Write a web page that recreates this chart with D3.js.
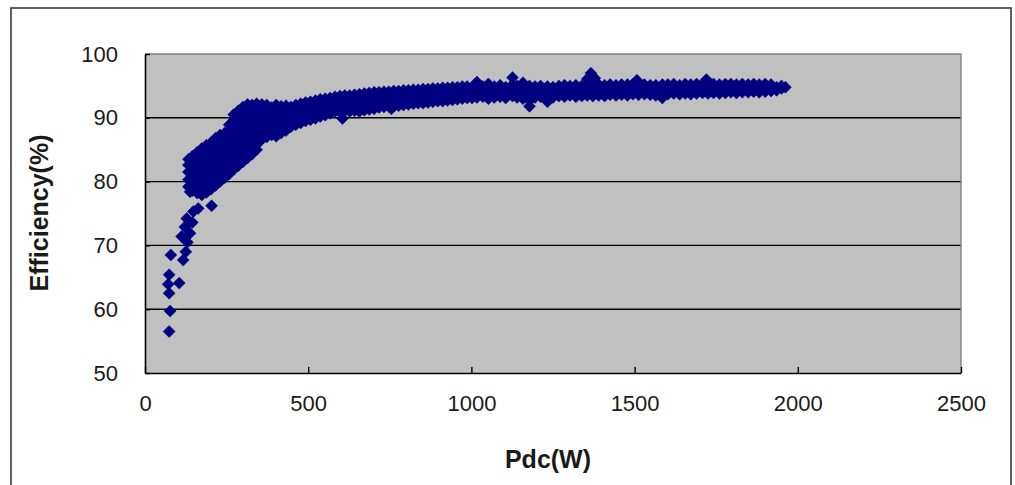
<!DOCTYPE html>
<html><head><meta charset="utf-8">
<script src="https://cdn.jsdelivr.net/npm/d3@7"></script>
<style>body{margin:0;background:#fff}svg{display:block}</style>
</head><body>
<script>
// ---- data ----
const xTicks = [0, 500, 1000, 1500, 2000, 2500];
const yTicks = [50, 60, 70, 80, 90, 100];
const xTitle = "Pdc(W)";
const yTitle = "Efficiency(%)";

// isolated low-load measurements [Pdc W, efficiency %]
const lowLoadPoints = [
  [74,56.5],[77,59.7],[74,62.5],[71,63.9],[74,65.4],[105,64.1],[79,68.5],[117,67.7],
  [125,69.0],[112,71.4],[130,70.5],[138,71.9],[122,72.9],[145,73.6],[128,74.2],
  [148,75.3],[163,75.8],[204,76.2],[138,78.4]
];

// steep ramp region: [Pdc, [efficiencies measured at about that Pdc]]
const rampColumns = [
  [133,[79.2,80.3,81.5,82.6,83.5]],
  [146,[78.6,79.8,80.9,82.1,83.2,84.0]],
  [160,[78.2,79.3,80.5,81.6,82.7,83.8,84.6]],
  [174,[77.9,78.9,80.1,81.2,82.3,83.4,84.5,85.2]],
  [188,[78.3,79.5,80.6,81.8,82.9,84.0,85.1,85.7]],
  [202,[78.8,79.9,81.1,82.2,83.3,84.4,85.5,86.1]],
  [216,[79.4,80.5,81.6,82.7,83.8,84.9,86.0,86.8]],
  [230,[80.0,81.1,82.2,83.3,84.4,85.5,86.6,87.3]],
  [244,[80.6,81.7,82.8,83.9,85.0,86.1,87.2,87.6]],
  [258,[81.2,82.3,83.4,84.5,85.6,86.7,87.8,88.9]],
  [272,[81.9,83.0,84.1,85.2,86.3,87.4,88.5,89.6,90.5]],
  [286,[82.5,83.6,84.7,85.8,86.9,88.0,89.1,90.2,91.1]],
  [300,[83.1,84.2,85.3,86.4,87.5,88.6,89.7,90.8,91.7]],
  [314,[83.7,84.8,85.9,87.0,88.1,89.2,90.3,91.4,92.1]],
  [328,[84.3,85.4,86.5,87.6,88.7,89.8,90.9,92.0]],
  [342,[85.0,86.1,87.2,88.3,89.4,90.5,91.6,92.2]],
  [352,[86.3]],
  [358,[86.7,87.8,88.9,90.0,91.1,92.1]],
  [373,[87.0,88.1,89.2,90.3,91.4,92.0]],
  [388,[87.3,88.4,89.5,90.6,91.6]],
  [402,[87.1,88.2,89.3,90.4,91.5,92.0]],
  [417,[87.6,88.7,89.8,90.9,91.8]],
  [432,[88.0,89.1,90.2,91.3,91.9]],
  [447,[88.6,89.7,90.8,91.7]]
];

// knee region
const midColumns = [
  [462,[88.9,90.0,91.0,92.0]],[477,[89.2,90.3,91.4,92.2]],[492,[89.5,90.6,91.6,92.4]],
  [507,[89.7,90.8,91.8,92.5]],[522,[89.9,91.0,92.0,92.7]],[537,[90.2,91.2,92.2,92.9]],
  [552,[90.4,91.4,92.4,93.0]],[567,[90.7,91.6,92.5,93.1]],[582,[91.0,91.9,92.8,93.3]],
  [597,[90.9,91.8,92.7,93.4]],[605,[89.9]],[612,[91.1,92.0,92.9,93.5]],
  [627,[91.0,92.0,92.9,93.5]],[642,[91.1,92.1,93.0,93.6]],[657,[91.0,92.0,93.0,93.7]],
  [672,[91.2,92.2,93.1,93.8]],[687,[91.3,92.3,93.2,93.9]],[702,[91.4,92.4,93.3,94.0]],
  [717,[91.6,92.5,93.4,94.0]],[732,[91.7,92.6,93.5,94.1]],[747,[91.8,92.7,93.5,94.1]],
  [755,[91.4]],[762,[91.8,92.7,93.6,94.2]],[777,[91.9,92.8,93.7,94.2]],
  [792,[92.0,92.9,93.7,94.3]],[807,[92.1,93.0,93.8,94.3]],[822,[92.2,93.1,93.8,94.4]],
  [837,[92.3,93.1,93.9,94.4]],[852,[92.3,93.2,93.9,94.5]],[867,[92.4,93.2,94.0,94.5]],
  [882,[92.5,93.3,94.0,94.6]],[897,[92.6,93.4,94.1,94.6]],[912,[92.6,93.4,94.1,94.7]],
  [927,[92.7,93.5,94.2,94.7]],[942,[92.8,93.5,94.2,94.8]],[957,[92.9,93.6,94.3,94.8]],
  [972,[93.0,93.7,94.3,94.9]],[987,[93.1,93.8,94.4,94.9]]
];

// high-load plateau
const highColumns = [
  [1002,[93.1,94.0,94.8]],[1017,[93.2,94.1,94.9,95.6]],[1035,[93.3,94.1,94.9]],
  [1052,[93.0,93.9,94.7,95.3]],[1070,[93.2,94.0,94.9]],[1088,[93.3,94.2,95.1]],
  [1105,[93.1,94.0,94.8]],[1126,[93.4,94.3,95.2,96.3]],[1140,[93.2,94.1,95.0]],
  [1158,[93.0,93.9,94.8,95.5]],[1178,[91.8,92.7,93.5,94.3,95.0]],[1195,[93.2,94.1,94.9]],
  [1212,[93.3,94.2,95.0]],[1233,[92.5,93.4,94.2,94.9]],[1250,[93.2,94.0,94.8]],
  [1268,[93.4,94.2,95.0]],[1285,[93.3,94.1,95.1]],[1302,[93.5,94.3,95.0]],
  [1320,[93.3,94.2,95.1]],[1338,[93.4,94.3,95.0]],[1355,[93.5,94.3,95.2,96.1]],
  [1366,[97.0]],[1372,[93.4,94.2,95.1]],[1378,[96.2]],[1390,[93.5,94.4,95.2]],
  [1408,[93.4,94.3,95.1]],[1425,[93.6,94.4,95.2]],[1443,[93.5,94.3,95.1]],
  [1460,[93.6,94.4,95.2]],[1478,[93.5,94.3,95.2]],[1495,[93.7,94.5,95.3]],
  [1507,[95.9]],[1512,[93.6,94.4,95.2]],[1530,[93.7,94.5,95.2]],[1548,[93.6,94.4,95.1]],
  [1565,[93.5,94.3,95.1]],[1585,[93.1,93.9,94.6,95.2]],[1602,[93.7,94.5,95.2]],
  [1620,[93.8,94.5,95.3]],[1638,[93.7,94.4,95.1]],[1655,[93.8,94.6,95.3]],
  [1672,[93.7,94.5,95.2]],[1690,[93.8,94.6,95.3]],[1708,[93.9,94.6,95.3]],
  [1720,[96.0]],[1725,[93.8,94.5,95.2]],[1742,[93.9,94.6,95.3]],[1760,[93.8,94.5,95.2]],
  [1778,[93.9,94.6,95.3]],[1795,[94.0,94.7,95.3]],[1812,[93.9,94.6,95.2]],
  [1830,[94.0,94.7,95.3]],[1848,[94.0,94.6,95.2]],[1865,[94.1,94.7,95.3]],
  [1882,[94.0,94.6,95.2]],[1900,[94.1,94.7,95.3]],[1918,[94.2,94.8,95.2]],
  [1935,[94.3,94.8]],[1950,[94.6,95.0]],[1962,[94.8]]
];

// ---- build point table ----
const points = lowLoadPoints.map(p => ({pdc: p[0], eff: p[1]}));
[rampColumns, midColumns, highColumns].forEach(cols =>
  cols.forEach(([pdc, effs]) => effs.forEach(eff => points.push({pdc, eff}))));

// ---- layout ----
const W = 1015, H = 485;
const svg = d3.select("body").append("svg").attr("width", W).attr("height", H)
  .style("font-family", "'Liberation Sans', Arial, sans-serif");

svg.append("rect").attr("x", 11).attr("y", 8).attr("width", 1000).attr("height", 500)
  .attr("fill", "#fff").attr("stroke", "#3a3a3a").attr("stroke-width", 1.6);

const x = d3.scaleLinear().domain([0, 2500]).range([145, 961]);
const y = d3.scaleLinear().domain([50, 100]).range([373, 54]);

// plot area
svg.append("rect").attr("x", x(0)).attr("y", y(100))
  .attr("width", x(2500) - x(0)).attr("height", y(50) - y(100))
  .attr("fill", "#c0c0c0");

// gridlines
svg.append("g").selectAll("line").data(yTicks.filter(v => v > 50 && v < 100)).join("line")
  .attr("x1", x(0)).attr("x2", x(2500)).attr("y1", d => y(d)).attr("y2", d => y(d))
  .attr("stroke", "#000").attr("stroke-width", 1.4);

// plot border top/right (gray)
svg.append("path")
  .attr("d", `M${x(0)},${y(100)}H${x(2500)}V${y(50)}`)
  .attr("fill", "none").attr("stroke", "#808080").attr("stroke-width", 1.4);

// markers
const diamond = {
  draw(ctx, size) {
    const r = Math.sqrt(size) / 2;
    ctx.moveTo(0, -r); ctx.lineTo(r, 0); ctx.lineTo(0, r); ctx.lineTo(-r, 0); ctx.closePath();
  }
};
const sym = d3.symbol().type(diamond).size(144);
svg.append("g").selectAll("path").data(points).join("path")
  .attr("transform", d => `translate(${x(d.pdc)},${y(d.eff)})`)
  .attr("d", sym)
  .attr("fill", "#000080").attr("stroke", "#000080").attr("stroke-width", 0.5);

// axes
const xAxis = svg.append("g").attr("transform", `translate(0,${y(50)})`)
  .call(d3.axisBottom(x).tickValues(xTicks).tickSize(-6).tickSizeOuter(0).tickPadding(22)
    .tickFormat(d3.format("d")));
const yAxis = svg.append("g").attr("transform", `translate(${x(0)},0)`)
  .call(d3.axisLeft(y).tickValues(yTicks).tickSize(-5).tickSizeOuter(0).tickPadding(27)
    .tickFormat(d3.format("d")));
[xAxis, yAxis].forEach(g => {
  g.select(".domain").attr("stroke", "#000").attr("stroke-width", 1.6);
  g.selectAll(".tick line").attr("stroke", "#000").attr("stroke-width", 1.4);
  g.selectAll(".tick text").attr("fill", "#1a1a1a")
    .style("font-size", "22px").style("font-family", "'Liberation Sans', Arial, sans-serif");
  g.attr("font-family", null).attr("font-size", null);
});

// titles
svg.append("text").attr("x", 548).attr("y", 468).attr("text-anchor", "middle")
  .style("font-size", "25px").style("font-weight", "bold").attr("fill", "#1a1a1a")
  .text(xTitle);
svg.append("text").attr("transform", "translate(48,213) rotate(-90)").attr("text-anchor", "middle")
  .style("font-size", "25px").style("font-weight", "bold").attr("fill", "#1a1a1a")
  .text(yTitle);
</script>
</body></html>
